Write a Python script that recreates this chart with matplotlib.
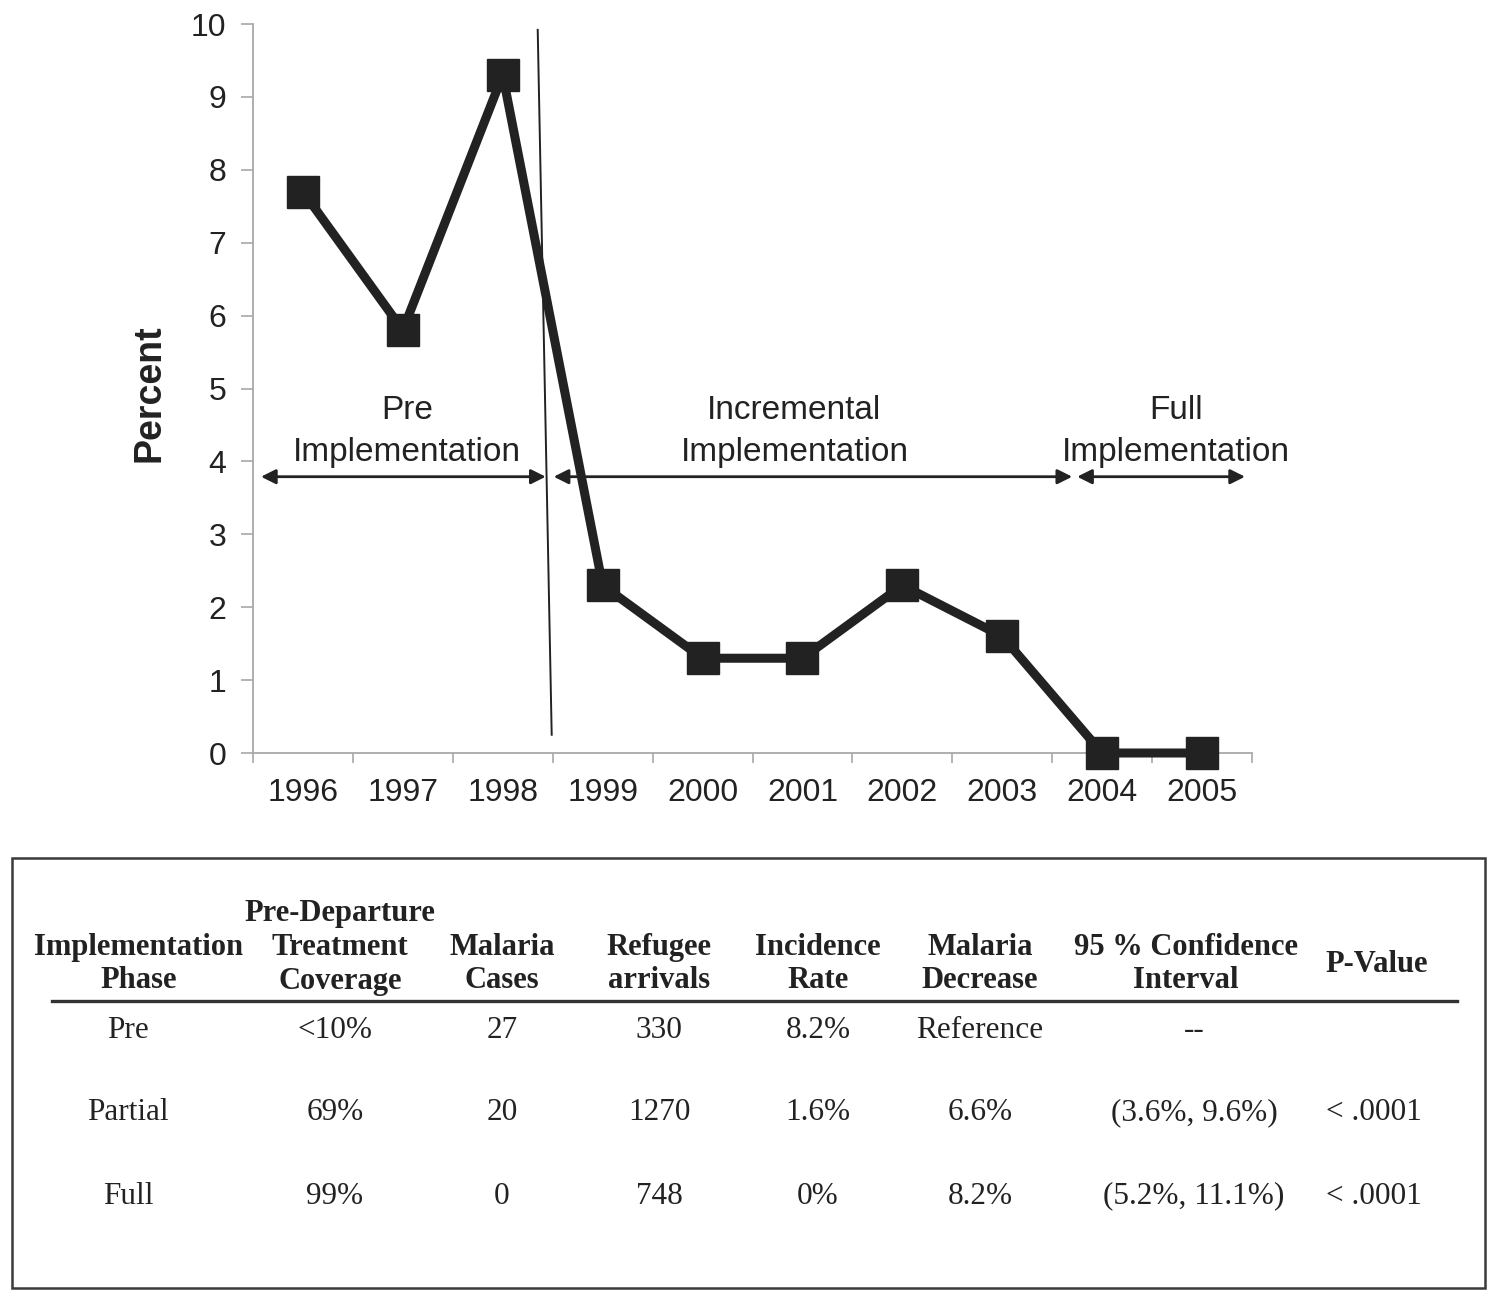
import matplotlib
matplotlib.use("Agg")
import matplotlib.pyplot as plt
from matplotlib.patches import Rectangle
from matplotlib.lines import Line2D

# ---------------- data ----------------
years = ["1996", "1997", "1998", "1999", "2000", "2001", "2002", "2003", "2004", "2005"]
percent = [7.7, 5.8, 9.3, 2.3, 1.3, 1.3, 2.3, 1.6, 0.0, 0.0]
y_ticks = [0, 1, 2, 3, 4, 5, 6, 7, 8, 9, 10]

phase_labels = ["Pre\nImplementation", "Incremental\nImplementation", "Full\nImplementation"]
phase_label_x = [1.04, 4.92, 8.74]
phase_arrows = [(-0.42, 2.43), (2.51, 7.70), (7.75, 9.43)]
phase_arrow_y = 3.79
divider = [(2.35, 9.92), (2.49, 0.25)]

header_lines = [
    ["Implementation", "Phase"],
    ["Pre-Departure", "Treatment", "Coverage"],
    ["Malaria", "Cases"],
    ["Refugee", "arrivals"],
    ["Incidence", "Rate"],
    ["Malaria", "Decrease"],
    ["95 % Confidence", "Interval"],
    ["P-Value"],
]
phases = ["Pre", "Partial", "Full"]
coverage = ["<10%", "69%", "99%"]
cases = ["27", "20", "0"]
arrivals = ["330", "1270", "748"]
incidence = ["8.2%", "1.6%", "0%"]
decrease = ["Reference", "6.6%", "8.2%"]
conf_int = ["--", "(3.6%, 9.6%)", "(5.2%, 11.1%)"]
p_values = ["", "< .0001", "< .0001"]

# ---------------- figure ----------------
W, H = 1500, 1306
fig = plt.figure(figsize=(W / 100, H / 100), dpi=100)
fig.patch.set_facecolor("white")

dark = "#222222"
grey = "#a8a8a8"
sans = ["Liberation Sans", "DejaVu Sans"]
serif = ["Liberation Serif", "DejaVu Serif"]

ax = fig.add_axes([253 / W, 1 - 753 / H, 999 / W, 729 / H])
x = list(range(len(years)))
ax.plot(x, percent, color=dark, lw=6.5, marker="s", ms=23, mfc=dark, mec=dark,
        solid_joinstyle="miter", zorder=3, clip_on=False)

ax.set_xlim(-0.5, len(years) - 0.5)
ax.set_ylim(0, 10)
ax.set_yticks(y_ticks)
ax.set_yticklabels([str(v) for v in y_ticks], fontfamily=sans, fontsize=23, color=dark)
ax.set_xticks(x)
ax.set_xticklabels(years, fontfamily=sans, fontsize=23, color=dark)
ax.set_xticks([i - 0.5 for i in range(len(years) + 1)], minor=True)
ax.tick_params(axis="x", which="major", length=0, pad=18)
ax.tick_params(axis="x", which="minor", length=7, width=1.2, color=grey, direction="out")
ax.tick_params(axis="y", which="major", length=9, width=1.2, color=grey, pad=10)
for s in ["top", "right"]:
    ax.spines[s].set_visible(False)
for s in ["left", "bottom"]:
    ax.spines[s].set_color(grey)
    ax.spines[s].set_linewidth(1.3)

# divider line
ax.add_line(Line2D([divider[0][0], divider[1][0]], [divider[0][1], divider[1][1]],
                   color=dark, lw=1.4, zorder=4))

# phase arrows and labels
for (x0, x1) in phase_arrows:
    ax.annotate("", xy=(x1, phase_arrow_y), xytext=(x0, phase_arrow_y),
                arrowprops=dict(arrowstyle="<|-|>", color=dark, lw=2,
                                mutation_scale=22, shrinkA=0, shrinkB=0))
for lab, lx in zip(phase_labels, phase_label_x):
    ax.text(lx, 4.41, lab, ha="center", va="center", fontfamily=sans, fontsize=24,
            color=dark, linespacing=1.45)

fig.text(150 / W, 1 - 393 / H, "Percent", rotation=90, ha="center", va="center",
         fontfamily=sans, fontsize=27, fontweight="bold", color=dark)

# ---------------- table ----------------
tax = fig.add_axes([0, 0, 1, 1])
tax.set_xlim(0, W)
tax.set_ylim(H, 0)
tax.axis("off")

tax.add_patch(Rectangle((12, 858), 1473, 430, fill=False, edgecolor="#3a3a3a", lw=1.8))
tax.add_line(Line2D([52, 1457], [1001, 1001], color="#333333", lw=2.4))

head_x = [139, 340, 502, 659, 818, 980, 1186, 1377]
col_x = [128, 335, 502, 659, 818, 980, 1194, 1374]
line_step = 33.5
header_bottom = 981
for cx, lines in zip(head_x, header_lines):
    n = len(lines)
    if n == 1:
        ys = [header_bottom - line_step / 2]
    else:
        ys = [header_bottom - line_step * (n - 1 - i) for i in range(n)]
    for t, yy in zip(lines, ys):
        tax.text(cx, yy, t, ha="center", va="center", fontfamily=serif, fontsize=22,
                 fontweight="bold", color=dark)

row_y = [1030, 1113, 1196]
columns = [phases, coverage, cases, arrivals, incidence, decrease, conf_int, p_values]
for cx, col in zip(col_x, columns):
    for val, ry in zip(col, row_y):
        tax.text(cx, ry, val, ha="center", va="center", fontfamily=serif, fontsize=22.5,
                 color=dark)

fig.savefig("out.png", dpi=100)
